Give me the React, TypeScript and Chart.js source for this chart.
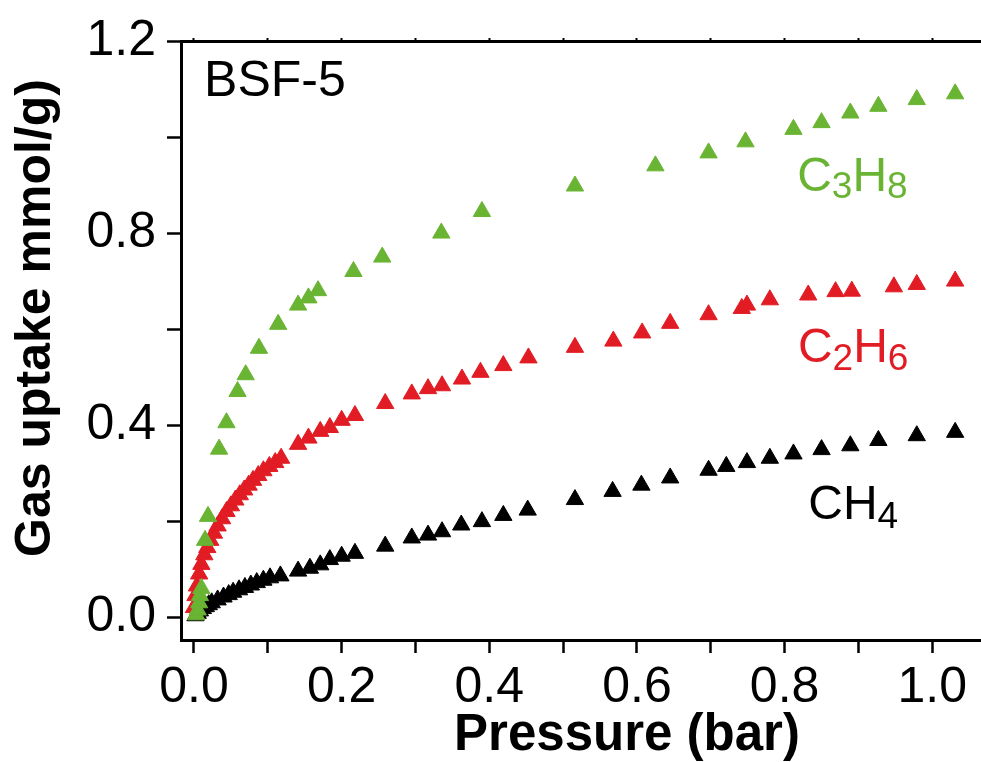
import React, { useEffect, useRef } from 'react';
import { Chart, registerables } from 'chart.js';

Chart.register(...registerables);

// ---- Data (pressure in bar, uptake in mmol/g) ----
const c3h8Pressure = [0.003, 0.005, 0.007, 0.008, 0.010, 0.015, 0.019, 0.034, 0.044, 0.059, 0.070, 0.088, 0.114, 0.141, 0.155, 0.168, 0.216, 0.255, 0.335, 0.390, 0.516, 0.625, 0.697, 0.747, 0.812, 0.850, 0.889, 0.927, 0.979, 1.031];
const c3h8Uptake = [0.005, 0.015, 0.030, 0.045, 0.060, 0.160, 0.210, 0.350, 0.405, 0.470, 0.505, 0.560, 0.610, 0.650, 0.665, 0.680, 0.720, 0.750, 0.800, 0.845, 0.898, 0.940, 0.967, 0.990, 1.016, 1.030, 1.050, 1.064, 1.078, 1.090];

const c2h6Pressure = [0.000, 0.002, 0.004, 0.007, 0.010, 0.014, 0.018, 0.022, 0.027, 0.032, 0.038, 0.044, 0.050, 0.056, 0.062, 0.068, 0.074, 0.080, 0.087, 0.094, 0.102, 0.110, 0.118, 0.141, 0.155, 0.171, 0.184, 0.200, 0.218, 0.259, 0.295, 0.317, 0.336, 0.363, 0.388, 0.419, 0.453, 0.516, 0.568, 0.607, 0.645, 0.697, 0.742, 0.749, 0.780, 0.832, 0.869, 0.891, 0.948, 0.979, 1.031];
const c2h6Uptake = [0.020, 0.045, 0.065, 0.090, 0.110, 0.130, 0.145, 0.160, 0.175, 0.190, 0.205, 0.220, 0.232, 0.244, 0.255, 0.265, 0.275, 0.285, 0.295, 0.305, 0.314, 0.322, 0.331, 0.360, 0.373, 0.387, 0.395, 0.410, 0.420, 0.445, 0.465, 0.476, 0.482, 0.496, 0.510, 0.524, 0.540, 0.562, 0.575, 0.592, 0.612, 0.630, 0.643, 0.650, 0.661, 0.671, 0.678, 0.679, 0.688, 0.693, 0.700];

const ch4Pressure = [0.002, 0.005, 0.008, 0.012, 0.016, 0.020, 0.024, 0.032, 0.040, 0.047, 0.053, 0.061, 0.069, 0.077, 0.085, 0.094, 0.103, 0.117, 0.141, 0.157, 0.171, 0.184, 0.200, 0.218, 0.259, 0.295, 0.317, 0.336, 0.362, 0.390, 0.419, 0.452, 0.516, 0.567, 0.606, 0.645, 0.697, 0.721, 0.749, 0.780, 0.812, 0.850, 0.889, 0.927, 0.979, 1.031];
const ch4Uptake = [0.003, 0.008, 0.013, 0.018, 0.022, 0.026, 0.030, 0.036, 0.042, 0.047, 0.052, 0.057, 0.062, 0.067, 0.072, 0.077, 0.082, 0.086, 0.096, 0.102, 0.109, 0.120, 0.127, 0.133, 0.148, 0.165, 0.171, 0.178, 0.192, 0.199, 0.212, 0.223, 0.245, 0.262, 0.275, 0.290, 0.306, 0.314, 0.322, 0.331, 0.340, 0.349, 0.357, 0.368, 0.378, 0.385];

const xTickValues = [0, 0.1, 0.2, 0.3, 0.4, 0.5, 0.6, 0.7, 0.8, 0.9, 1.0];
const yTickValues = [0, 0.2, 0.4, 0.6, 0.8, 1.0, 1.2];
const xAxisTitle = 'Pressure (bar)';
const yAxisTitle = 'Gas uptake mmol/g)';
const sampleName = 'BSF-5';
const c3h8Label: [string, boolean][] = [['C', false], ['3', true], ['H', false], ['8', true]];
const c2h6Label: [string, boolean][] = [['C', false], ['2', true], ['H', false], ['6', true]];
const ch4Label: [string, boolean][] = [['C', false], ['H', false], ['4', true]];

// ---- Styles ----
const GREEN = 'rgb(106,180,52)';
const RED = 'rgb(226,28,36)';
const BLACK = '#000000';
const FONT = '"Liberation Sans", Arial, Helvetica, sans-serif';

const xMin = -0.0176, xMax = 1.066, yMin = -0.0475, yMax = 1.2;

const toPoints = (xs: number[], ys: number[]) => xs.map((x, i) => ({ x, y: ys[i] }));

function drawFormula(ctx: CanvasRenderingContext2D, parts: [string, boolean][], x: number, y: number, color: string, size: number, subSize: number, drop: number) {
  ctx.fillStyle = color;
  ctx.textAlign = 'left';
  ctx.textBaseline = 'alphabetic';
  let cx = x;
  for (const [t, sub] of parts) {
    ctx.font = `${sub ? subSize : size}px ${FONT}`;
    ctx.fillText(t, cx, sub ? y + drop : y);
    cx += ctx.measureText(t).width;
  }
}

const annotationPlugin = {
  id: 'annotations',
  afterDraw(chart: any) {
    const ctx: CanvasRenderingContext2D = chart.ctx;
    const xs = chart.scales.x;
    const ys = chart.scales.y;
    ctx.save();
    // sample name
    ctx.fillStyle = BLACK;
    ctx.font = `50px ${FONT}`;
    ctx.textAlign = 'left';
    ctx.textBaseline = 'alphabetic';
    ctx.fillText(sampleName, xs.getPixelForValue(0.0136), ys.getPixelForValue(1.085));
    // series labels
    drawFormula(ctx, c3h8Label, xs.getPixelForValue(0.817), ys.getPixelForValue(0.887), GREEN, 48, 37, 7);
    drawFormula(ctx, c2h6Label, xs.getPixelForValue(0.818), ys.getPixelForValue(0.531), RED, 48, 37, 8);
    drawFormula(ctx, ch4Label, xs.getPixelForValue(0.832), ys.getPixelForValue(0.205), BLACK, 48, 37, 9);
    // x title
    ctx.fillStyle = BLACK;
    ctx.font = `bold 51px ${FONT}`;
    ctx.textAlign = 'center';
    ctx.fillText(xAxisTitle, 627, 750);
    // y title
    ctx.translate(50, 318);
    ctx.rotate(-Math.PI / 2);
    ctx.font = `bold 50px ${FONT}`;
    ctx.textAlign = 'center';
    ctx.fillText(yAxisTitle, 0, 0);
    ctx.restore();
  },
};

export default function App() {
  const ref = useRef<HTMLCanvasElement | null>(null);
  useEffect(() => {
    if (!ref.current) return;
    const tickFont = { family: FONT, size: 50, lineHeight: 1.2 };
    const chart = new Chart(ref.current, {
      type: 'scatter',
      data: {
        datasets: [
          { label: 'C3H8', data: toPoints(c3h8Pressure, c3h8Uptake), backgroundColor: GREEN, borderColor: GREEN, pointStyle: 'triangle', pointRadius: 10, borderWidth: 1, order: 1 },
          { label: 'C2H6', data: toPoints(c2h6Pressure, c2h6Uptake), backgroundColor: RED, borderColor: RED, pointStyle: 'triangle', pointRadius: 10, borderWidth: 1, order: 2 },
          { label: 'CH4', data: toPoints(ch4Pressure, ch4Uptake), backgroundColor: BLACK, borderColor: BLACK, pointStyle: 'triangle', pointRadius: 10, borderWidth: 1, order: 3 },
        ],
      },
      options: {
        responsive: false,
        animation: false,
        events: [],
        layout: { padding: 0, autoPadding: false },
        plugins: { legend: { display: false }, tooltip: { enabled: false } },
        scales: {
          x: {
            type: 'linear',
            position: 'bottom',
            min: xMin,
            max: xMax,
            afterBuildTicks: (s: any) => { s.ticks = xTickValues.map((v) => ({ value: v })); },
            afterFit: (s: any) => { s.height = 122; },
            ticks: {
              autoSkip: false,
              maxRotation: 0,
              padding: 5,
              color: BLACK,
              font: tickFont,
              callback: (v: any) => (Math.round(Number(v) * 10) % 2 === 0 ? Number(v).toFixed(1) : ''),
            },
            grid: { drawOnChartArea: false, drawTicks: true, tickLength: 13, tickWidth: 2.5, tickColor: BLACK },
            border: { display: true, color: BLACK, width: 3 },
          },
          x2: {
            type: 'linear',
            position: 'top',
            min: xMin,
            max: xMax,
            afterBuildTicks: (s: any) => { s.ticks = xTickValues.map((v) => ({ value: v })); },
            afterFit: (s: any) => { s.height = 37; },
            ticks: { display: false },
            grid: { drawOnChartArea: false, drawTicks: true, tickLength: 3, tickWidth: 2, tickColor: BLACK },
            border: { display: true, color: BLACK, width: 3 },
          },
          y: {
            type: 'linear',
            position: 'left',
            min: yMin,
            max: yMax,
            afterBuildTicks: (s: any) => { s.ticks = yTickValues.map((v) => ({ value: v })); },
            afterFit: (s: any) => { s.width = 181; },
            ticks: {
              autoSkip: false,
              padding: 11,
              color: BLACK,
              font: tickFont,
              callback: (v: any) => (Math.round(Number(v) * 10) % 4 === 0 ? Number(v).toFixed(1) : ''),
            },
            grid: { drawOnChartArea: false, drawTicks: true, tickLength: 14, tickWidth: 2.5, tickColor: BLACK },
            border: { display: true, color: BLACK, width: 3 },
          },
        },
      },
      plugins: [annotationPlugin],
    } as any);
    return () => chart.destroy();
  }, []);
  return (
    <div style={{ position: 'fixed', left: 0, top: 0, width: 981, height: 762, background: '#fff' }}>
      <canvas ref={ref} width={981} height={762} style={{ display: 'block' }} />
    </div>
  );
}
